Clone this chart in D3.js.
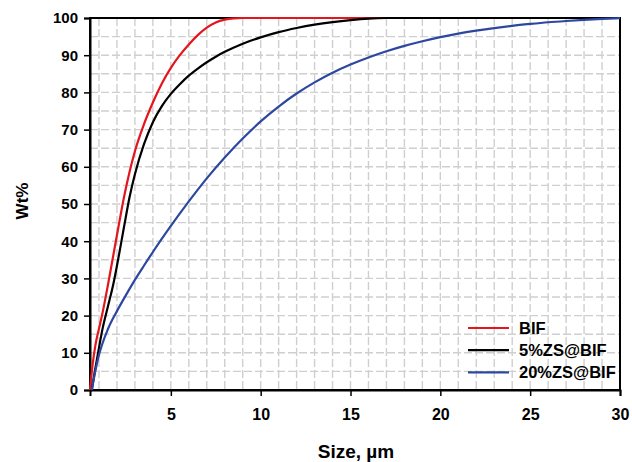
<!DOCTYPE html>
<html>
<head>
<meta charset="utf-8">
<script src="https://cdn.jsdelivr.net/npm/d3@7"></script>
<style>
  html, body { margin: 0; padding: 0; background: #fff; }
  svg { display: block; font-family: "Liberation Sans", Arial, sans-serif; font-weight: bold; }
</style>
</head>
<body>
<svg id="chart" width="632" height="462"></svg>
<script>
// Cumulative particle size distribution, Wt% vs size (µm)
const seriesNames = ["BIF", "5%ZS@BIF", "20%ZS@BIF"];
const seriesColors = ["#e3161d", "#000000", "#2d47a0"];

const bifSize = [0.5, 0.65, 0.8, 1.0, 1.2, 1.5, 1.8, 2.1, 2.4, 2.7, 3.0, 3.5, 4.0, 4.5, 5.0, 5.5, 6.0, 6.5, 7.0, 7.5, 8.0, 8.5, 9.0, 30];
const bifWt   = [0, 7, 12, 16.5, 20.8, 28.3, 36.3, 44.3, 52.0, 58.6, 64.2, 71.4, 77.3, 82.4, 86.6, 90.0, 92.9, 95.4, 97.4, 98.8, 99.55, 99.9, 100, 100];

const zs5Size = [0.6, 0.75, 0.95, 1.2, 1.5, 1.8, 2.1, 2.4, 2.7, 3.0, 3.5, 4.0, 4.5, 5.0, 5.5, 6.0, 6.5, 7.0, 7.5, 8.0, 9.0, 10, 11, 12, 13, 14, 15, 16, 17, 30];
const zs5Wt   = [0, 4.5, 10, 16.5, 22.5, 28.5, 36, 44, 51.8, 58, 66, 72, 76.3, 79.6, 82.2, 84.5, 86.4, 88.1, 89.6, 90.9, 93.1, 94.8, 96.2, 97.3, 98.2, 98.9, 99.45, 99.85, 100, 100];

const zs20Size = [0.6, 0.8, 1.0, 1.5, 2.0, 2.5, 3.0, 3.5, 4.0, 5.0, 6.0, 7.0, 8.0, 9.0, 10, 11, 12, 13, 14, 15, 16, 17, 18, 19, 20, 21, 22, 23, 24, 25, 26, 27, 28, 29, 30];
const zs20Wt   = [0, 5.2, 9.4, 16.4, 21.2, 25.5, 29.6, 33.4, 37.1, 44.1, 50.7, 56.9, 62.5, 67.6, 72.2, 76.2, 79.7, 82.7, 85.3, 87.5, 89.4, 91.05, 92.5, 93.75, 94.85, 95.8, 96.6, 97.3, 97.9, 98.4, 98.85, 99.2, 99.5, 99.75, 99.95];

const xTicks = [5, 10, 15, 20, 25, 30];
const yTicks = [0, 10, 20, 30, 40, 50, 60, 70, 80, 90, 100];

const series = [
  { name: seriesNames[0], color: seriesColors[0], xs: bifSize, ys: bifWt },
  { name: seriesNames[1], color: seriesColors[1], xs: zs5Size, ys: zs5Wt },
  { name: seriesNames[2], color: seriesColors[2], xs: zs20Size, ys: zs20Wt }
];

const margin = { left: 90, right: 12, top: 18, bottom: 72 };
const W = 632, H = 462;
const svg = d3.select("#chart");

const x = d3.scaleLinear().domain([0.5, 30]).range([margin.left, W - margin.right]);
const y = d3.scaleLinear().domain([0, 100]).range([H - margin.bottom, margin.top]);

// dashed grid: vertical every 1 µm, horizontal every 5 %
const grid = svg.append("g").attr("stroke", "#cfcfcf").attr("stroke-width", 1.4)
  .attr("stroke-dasharray", "8,3");
grid.selectAll("line.v").data(d3.range(1, 30)).join("line").attr("class", "v")
  .attr("x1", d => x(d)).attr("x2", d => x(d))
  .attr("y1", y(100)).attr("y2", y(0));
grid.selectAll("line.h").data(d3.range(5, 100, 5)).join("line").attr("class", "h")
  .attr("x1", x(0.5)).attr("x2", x(30))
  .attr("y1", d => y(d)).attr("y2", d => y(d));

// frame
svg.append("rect")
  .attr("x", x(0.5)).attr("y", y(100))
  .attr("width", x(30) - x(0.5)).attr("height", y(0) - y(100))
  .attr("fill", "none").attr("stroke", "#000").attr("stroke-width", 2);

// axes
const yAxis = d3.axisLeft(y).tickValues(yTicks).tickSize(6).tickPadding(6);
const gy = svg.append("g").attr("transform", `translate(${x(0.5)},0)`).call(yAxis);
gy.select(".domain").attr("stroke-width", 2);
gy.selectAll(".tick line").attr("stroke-width", 1.5);
gy.selectAll(".tick text").attr("font-size", 15).attr("font-weight", "bold")
  .attr("font-family", "Liberation Sans, Arial, sans-serif").attr("fill", "#000");

const xAxis = d3.axisBottom(x).tickValues(xTicks).tickSize(6).tickPadding(13);
const gx = svg.append("g").attr("transform", `translate(0,${y(0)})`).call(xAxis);
gx.select(".domain").attr("stroke-width", 2);
gx.selectAll(".tick line").attr("stroke-width", 1.5);
gx.selectAll(".tick text").attr("font-size", 16).attr("font-weight", "bold")
  .attr("font-family", "Liberation Sans, Arial, sans-serif").attr("fill", "#000");

// curves
const line = d3.line().x(d => x(d[0])).y(d => y(d[1])).curve(d3.curveMonotoneX);
svg.append("g").selectAll("path").data(series).join("path")
  .attr("d", s => line(s.xs.map((v, i) => [v, s.ys[i]])))
  .attr("fill", "none").attr("stroke", s => s.color).attr("stroke-width", 2.2)
  .attr("stroke-linejoin", "round");

// axis titles
svg.append("text").attr("x", 356).attr("y", 458).attr("text-anchor", "middle")
  .attr("font-size", 19).text("Size, µm");
svg.append("text").attr("transform", "translate(28,201) rotate(-90)")
  .attr("text-anchor", "middle").attr("font-size", 17).text("Wt%");

// legend
const legend = svg.append("g");
const rows = legend.selectAll("g").data(series).join("g")
  .attr("transform", (d, i) => `translate(468,${328 + i * 22.2})`);
rows.append("line").attr("x1", 0).attr("x2", 41).attr("y1", 0).attr("y2", 0)
  .attr("stroke", d => d.color).attr("stroke-width", 2.2);
rows.append("text").attr("x", 51).attr("y", 6).attr("font-size", 16.5)
  .text(d => d.name);
</script>
</body>
</html>
